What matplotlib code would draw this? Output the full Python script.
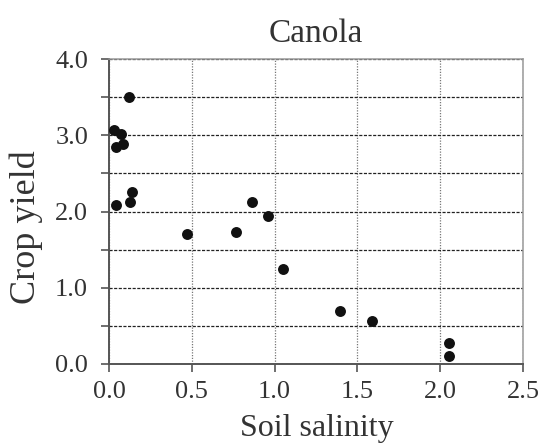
# canola.py
# scatter of crop yield against soil salinity

import numpy as np
import matplotlib.pyplot as plt

# values
salinity = [0.119, 0.030, 0.071, 0.085, 0.044, 0.141, 0.125, 0.044, 0.468,
            0.766, 0.861, 0.958, 1.052, 1.396, 1.590, 2.056, 2.056]
crop_yield = [3.50, 3.07, 3.01, 2.89, 2.84, 2.25, 2.12, 2.09, 1.70,
              1.73, 2.12, 1.935, 1.25, 0.70, 0.56, 0.28, 0.10]
x_ticks = [0.0, 0.5, 1.0, 1.5, 2.0, 2.5]
y_ticks = [0.0, 1.0, 2.0, 3.0, 4.0]
y_minor = [0.5, 1.5, 2.5, 3.5]

plt.rcParams['font.family'] = ['Liberation Serif', 'DejaVu Serif']

fig = plt.figure(figsize=(5.42, 4.44), dpi=100)
ax = fig.add_axes([109/542, 1 - 364/444, 414/542, 305/444])

ax.scatter(salinity, crop_yield, s=62, color='#111111', zorder=3, linewidths=0)

ax.set_xlim(0, 2.5)
ax.set_ylim(0, 4.0)
ax.set_xticks(x_ticks)
ax.set_xticklabels([f'{v:.1f}' for v in x_ticks])
ax.set_yticks(y_ticks)
ax.set_yticklabels([f'{v:.1f}' for v in y_ticks])
ax.set_yticks(y_minor, minor=True)

# grid: dashed horizontal, dotted vertical
ax.yaxis.grid(True, which='both', linestyle=(0, (2.5, 1.2)), linewidth=0.9, color='#222222')
ax.xaxis.grid(True, which='major', linestyle=(0, (1, 1.2)), linewidth=0.9, color='#777777')
ax.set_axisbelow(True)

ax.tick_params(axis='both', which='both', direction='out', length=6, width=1.2,
               color='#555555', labelsize=19, labelcolor='#333333')
ax.tick_params(axis='y', which='both', pad=9)
ax.tick_params(axis='x', which='both', pad=6)

for side in ['left', 'bottom']:
    ax.spines[side].set_color('#555555')
    ax.spines[side].set_linewidth(1.4)
for side in ['top', 'right']:
    ax.spines[side].set_color('#999999')
    ax.spines[side].set_linewidth(1.1)

ax.set_xlabel('Soil salinity', fontsize=23, color='#333333')
ax.set_ylabel('Crop yield', fontsize=26, color='#333333')
ax.xaxis.set_label_coords(0.502, -0.21)
ax.yaxis.set_label_coords(-0.2, 0.4475)
ax.xaxis.label.set_va('center')
ax.yaxis.label.set_va('center')
ax.set_title('Canola', fontsize=24, color='#333333', y=1.055, va='center')

plt.savefig('out.png', dpi=100)
